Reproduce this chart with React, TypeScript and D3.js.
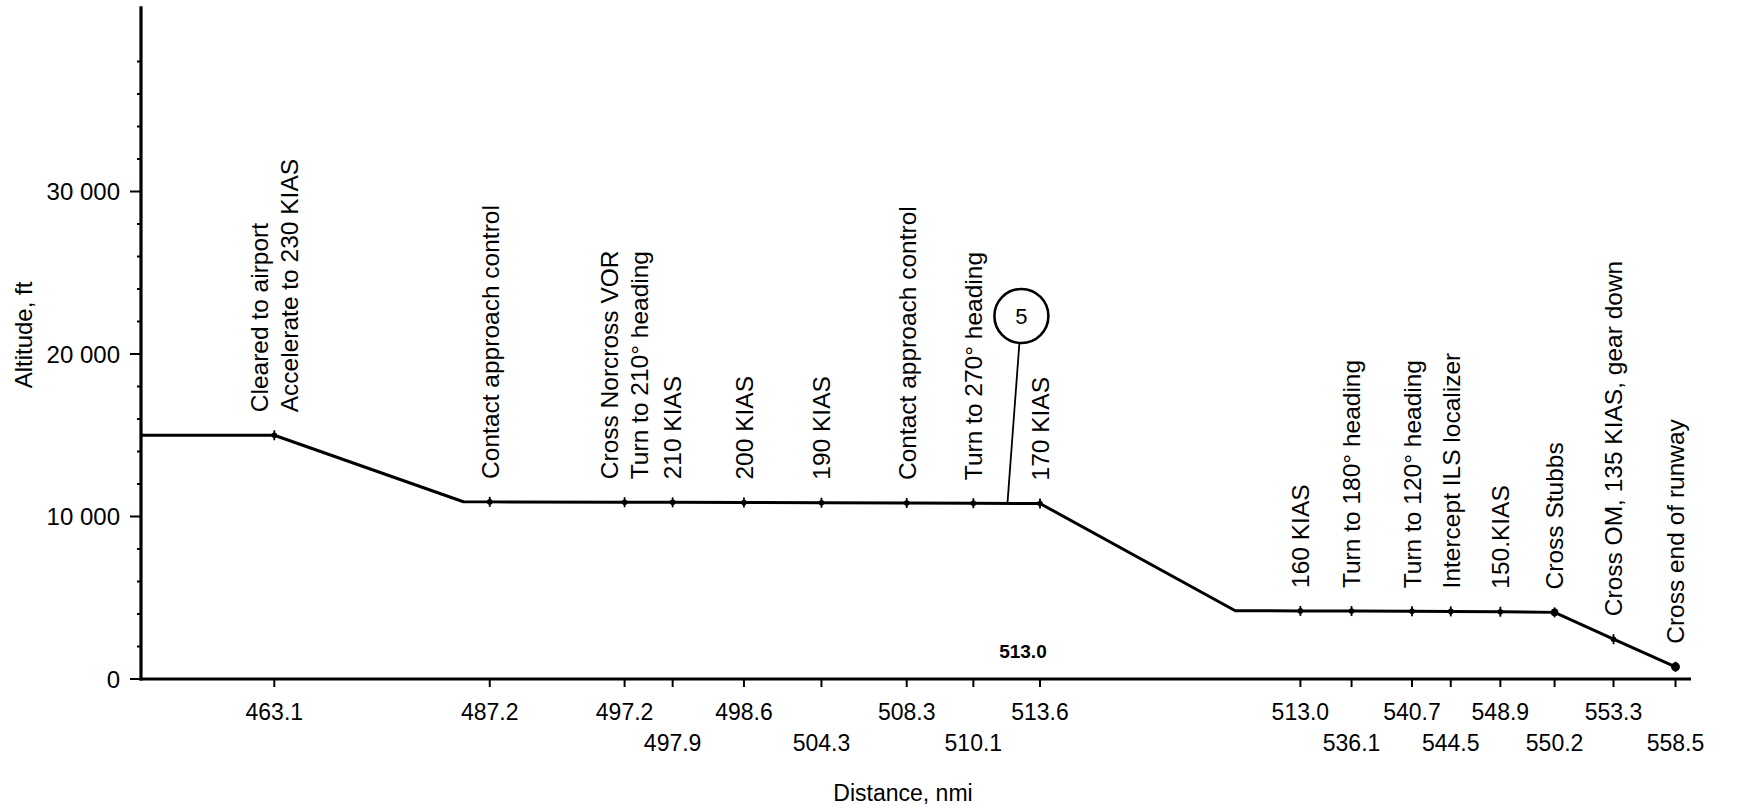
import React from "react";
import * as d3 from "d3";

// ---- data ----
// distance labels at each event (x axis), in plotting order
const distanceLabels = ["463.1", "487.2", "497.2", "497.9", "498.6", "504.3", "508.3", "510.1", "513.6",
  "513.0", "536.1", "540.7", "544.5", "548.9", "550.2", "553.3", "558.5"];
// schematic track position of each event along the (non-linear) distance axis, 0..1000
const eventTrack = [86, 225, 312, 343, 389, 439, 494, 537, 580, 748, 781, 820, 845, 877, 912, 950, 990];
// which label row (0 = upper, 1 = lower) the distance label sits in
const labelRow = [0, 0, 0, 1, 0, 1, 0, 1, 0, 0, 1, 0, 1, 0, 1, 0, 1];
// altitude (ft) at each event
const eventAlt = [15000, 10900, 10880, 10870, 10860, 10850, 10830, 10820, 10800,
  4190, 4180, 4170, 4160, 4140, 4100, 2450, 750];
// event notes
const eventNotes: string[][] = [
  ["Cleared to airport", "Accelerate to 230 KIAS"],
  ["Contact approach control"],
  ["Cross Norcross VOR", "Turn to 210\u00B0 heading"],
  ["210 KIAS"],
  ["200 KIAS"],
  ["190 KIAS"],
  ["Contact approach control"],
  ["Turn to 270\u00B0 heading"],
  ["170 KIAS"],
  ["160 KIAS"],
  ["Turn to 180\u00B0 heading"],
  ["Turn to 120\u00B0 heading"],
  ["Intercept ILS localizer"],
  ["150.KIAS"],
  ["Cross Stubbs"],
  ["Cross OM, 135 KIAS, gear down"],
  ["Cross end of runway"],
];
// extra profile vertices (start of plot and slope corners)
const cornerTrack = [0, 208, 706];
const cornerAlt = [15000, 10910, 4200];

// y axis
const yTicks = [0, 10000, 20000, 30000];
const yTickLabels = ["0", "10 000", "20 000", "30 000"];
const yAxisTop = 41400;

// annotations
const calloutLabel = "5";
const calloutTrack = 568;
const calloutAlt = 22340;
const calloutAnchorTrack = 559;
const calloutAnchorAlt = 10810;
const boldNote = "513.0";
const boldNoteTrack = 569;
const boldNoteAlt = 1700;

const W = 1737;
const H = 811;
const FONT = "'Liberation Sans', Arial, Helvetica, sans-serif";

export default function App() {
  const x = d3.scaleLinear().domain([0, 1000]).range([141, 1691]);
  const y = d3.scaleLinear().domain([0, 30000]).range([679, 191.5]);

  const profile: [number, number][] = [
    ...cornerTrack.map((t, i) => [t, cornerAlt[i]] as [number, number]),
    ...eventTrack.map((t, i) => [t, eventAlt[i]] as [number, number]),
  ].sort((a, b) => a[0] - b[0]);

  const line = d3.line<[number, number]>().x((d) => x(d[0])).y((d) => y(d[1]));

  const minorTicks = d3.range(2000, yAxisTop, 2000).filter((v) => v % 10000 !== 0);
  const y0 = y(0);
  const rowBase = [720, 751];
  const lineGap = 30;
  const fs = 23;
  const noteFs = 24.5;

  return (
    <svg width={W} height={H} style={{ position: "absolute", left: 0, top: 0, display: "block", background: "#fff" }}
      fontFamily={FONT}>
      <rect x={0} y={0} width={W} height={H} fill="#fff" />
      {/* y axis */}
      <line x1={x(0)} x2={x(0)} y1={y0 + 1.5} y2={y(yAxisTop)} stroke="#000" strokeWidth={3.2} />
      {yTicks.map((v, i) => (
        <g key={"yt" + i}>
          <line x1={x(0) - 11} x2={x(0)} y1={y(v)} y2={y(v)} stroke="#000" strokeWidth={2} />
          <text x={x(0) - 21} y={y(v)} dy="0.36em" textAnchor="end" fontSize={24}>{yTickLabels[i]}</text>
        </g>
      ))}
      {minorTicks.map((v) => (
        <line key={"ym" + v} x1={x(0) - 4} x2={x(0)} y1={y(v)} y2={y(v)} stroke="#000" strokeWidth={2} />
      ))}
      <text transform={`translate(23,335) rotate(-90)`} dy="0.36em" textAnchor="middle" fontSize={24}>Altitude, ft</text>

      {/* x axis */}
      <line x1={x(0) - 1.6} x2={x(1000)} y1={y0} y2={y0} stroke="#000" strokeWidth={3.2} />
      {eventTrack.map((t, i) => (
        <g key={"xt" + i}>
          <line x1={x(t)} x2={x(t)} y1={y0} y2={y0 + 8} stroke="#000" strokeWidth={2} />
          <text x={x(t)} y={rowBase[labelRow[i]]} textAnchor="middle" fontSize={fs}>{distanceLabels[i]}</text>
        </g>
      ))}
      <text x={903} y={801} textAnchor="middle" fontSize={23}>Distance, nmi</text>

      {/* profile */}
      <path d={line(profile) || ""} fill="none" stroke="#000" strokeWidth={3} strokeLinejoin="round" />
      {eventTrack.map((t, i) => {
        const last = i === eventTrack.length - 1;
        const r = last ? 4.5 : i === 14 ? 3.8 : 2.8;
        return (
          <g key={"m" + i}>
            <line x1={x(t)} x2={x(t)} y1={y(eventAlt[i]) - 5} y2={y(eventAlt[i]) + 5} stroke="#000" strokeWidth={1.8} />
            <circle cx={x(t)} cy={y(eventAlt[i])} r={r} fill="#000" />
          </g>
        );
      })}

      {/* event notes */}
      {eventNotes.map((lines, i) => {
        const bottom = y(eventAlt[i]) - 23;
        const n = lines.length;
        return lines.map((s, j) => {
          const cx = x(eventTrack[i]) + (j - (n - 1) / 2) * lineGap;
          return (
            <text key={"n" + i + "-" + j} transform={`translate(${cx},${bottom}) rotate(-90)`} dy="0.36em"
              textAnchor="start" fontSize={noteFs}>{s}</text>
          );
        });
      })}

      {/* callout */}
      <line x1={x(calloutAnchorTrack)} y1={y(calloutAnchorAlt)} x2={x(calloutTrack) - 2} y2={y(calloutAlt) + 27}
        stroke="#000" strokeWidth={1.8} />
      <circle cx={x(calloutTrack)} cy={y(calloutAlt)} r={27} fill="#fff" stroke="#000" strokeWidth={2.6} />
      <text x={x(calloutTrack)} y={y(calloutAlt)} dy="0.36em" textAnchor="middle" fontSize={22}>{calloutLabel}</text>

      <text x={x(boldNoteTrack)} y={y(boldNoteAlt)} dy="0.36em" textAnchor="middle" fontSize={19} fontWeight="bold">{boldNote}</text>
    </svg>
  );
}
